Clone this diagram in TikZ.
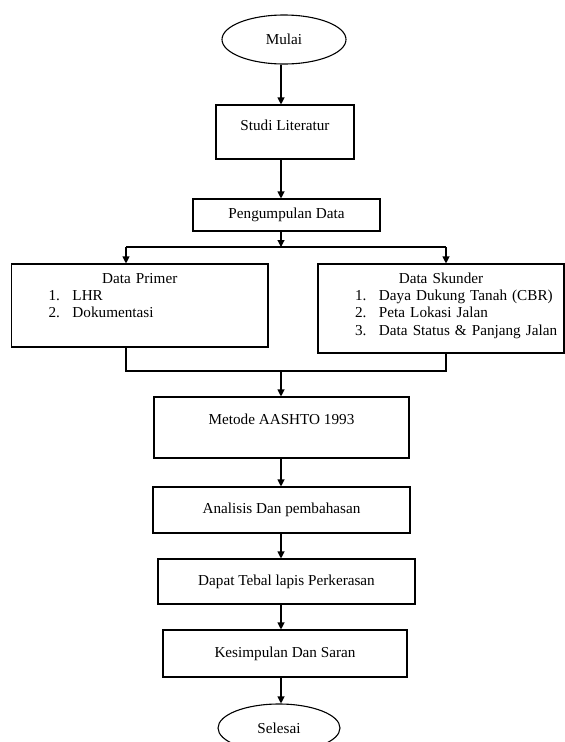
\documentclass[tikz,border=0pt]{standalone}
\usepackage{fontspec}
\setmainfont{Liberation Serif}
\usetikzlibrary{arrows.meta,calc,shapes.geometric}
\newcommand\flowitem[2]{\strut\hspace*{37pt}\makebox[24pt][l]{#1}#2\par}

\begin{document}
\begin{tikzpicture}[x=1pt, y=-1pt, line width=1.1pt,
		every node/.style={font=\fontsize{15.2}{17.4}\selectfont, inner sep=0pt},
		box/.style={draw, rectangle, align=center},
		oval/.style={draw, ellipse},
		arrow/.style={-{Triangle[length=7pt,width=7pt]}},
		listtext/.style={anchor=north west, align=left}]
			%%%%% START %%%%%
			
			\useasboundingbox (0,0) rectangle (565,742);
			\coordinate (axis) at (281,0);
			
			\node[oval, minimum width=124pt, minimum height=49pt] (mulai) at (284,39.5) {Mulai};
			\node[box, minimum width=138pt, minimum height=54pt] (studi) at (285,132) {Studi Literatur\\[-3pt]~};
			\node[box, minimum width=187pt, minimum height=32pt] (peng) at (286.5,215) {Pengumpulan Data};
			
			\node[box, minimum width=256.5pt, minimum height=83pt] (primer) at (139.75,305.5) {};
			\node[listtext, text width=256.5pt] (primerText) at ($(primer.north west)+(0,7)$) {%
				{\centering\strut Data Primer\par}
				\flowitem{1.}{LHR}
				\flowitem{2.}{Dokumentasi}};
			
			\node[box, minimum width=246pt, minimum height=89pt] (skunder) at (441,308.5) {};
			\node[listtext, text width=246pt] (skunderText) at ($(skunder.north west)+(0,7)$) {%
				{\centering\strut Data Skunder\par}
				\flowitem{1.}{Daya Dukung Tanah (CBR)}
				\flowitem{2.}{Peta Lokasi Jalan}
				\flowitem{3.}{Data Status \& Panjang Jalan}};
			
			\node[box, minimum width=255pt, minimum height=61pt] (metode) at (281.5,427.5) {Metode AASHTO 1993\\~};
			\node[box, minimum width=257pt, minimum height=46pt] (analisis) at (281.5,510) {Analisis Dan pembahasan};
			\node[box, minimum width=257pt, minimum height=45pt] (dapat) at (286.5,581.5) {Dapat Tebal lapis Perkerasan};
			\node[box, minimum width=244pt, minimum height=47pt] (kesimpulan) at (285,653.5) {Kesimpulan Dan Saran};
			\node[oval, minimum width=122pt, minimum height=48pt] (selesai) at (279,728) {Selesai};
			
			%%%%% BRANCH %%%%%
			
			\coordinate (splitL) at (126,247);
			\coordinate (splitR) at (446,247);
			\coordinate (joinL) at (126,371);
			\coordinate (joinR) at (446,371);
			
			\draw[arrow] (mulai.south -| axis) -- (studi.north -| axis);
			\draw[arrow] (studi.south -| axis) -- (peng.north -| axis);
			\draw[arrow] (peng.south -| axis) -- (splitL -| axis);
			\draw (splitL) -- (splitR);
			\draw[arrow] (splitL) -- (splitL |- primer.north);
			\draw[arrow] (splitR) -- (splitR |- skunder.north);
			\draw (joinL |- primer.south) -- (joinL) -- (joinR) -- (joinR |- skunder.south);
			\draw[arrow] (joinL -| axis) -- (metode.north -| axis);
			\draw[arrow] (metode.south -| axis) -- (analisis.north -| axis);
			\draw[arrow] (analisis.south -| axis) -- (dapat.north -| axis);
			\draw[arrow] (dapat.south -| axis) -- (kesimpulan.north -| axis);
			\draw[arrow] (kesimpulan.south -| axis) -- (selesai.north -| axis);
			
			%%%%% END %%%%%
\end{tikzpicture}
\end{document}
